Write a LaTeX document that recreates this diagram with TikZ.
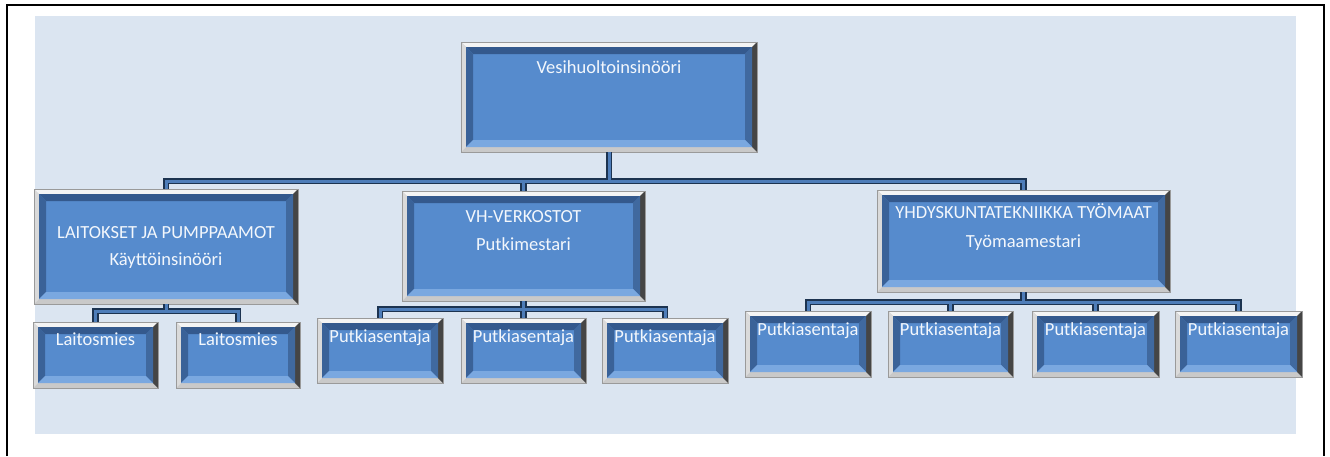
\documentclass[tikz,border=0pt]{standalone}
\usepackage{fontspec}
\setmainfont{Carlito}
\usetikzlibrary{calc,fit}
\definecolor{bgb}{HTML}{DBE5F1}
\definecolor{faceb}{RGB}{86,139,205}
\definecolor{bevtop}{HTML}{34598D}
\definecolor{bevleft}{HTML}{3A6298}
\definecolor{bevright}{HTML}{40699F}
\definecolor{bevbot}{HTML}{7AA8E0}
\definecolor{svtop}{HTML}{F4F4F4}
\definecolor{svleft}{HTML}{DADADA}
\definecolor{svright}{HTML}{454545}
\definecolor{svbot}{HTML}{C9C9C9}
\definecolor{svline}{HTML}{9A9A9A}
\definecolor{cdark}{HTML}{1C3350}
\definecolor{cblue}{HTML}{4E7DB9}
\definecolor{txtc}{HTML}{F3F7FC}
\newcommand\bvlbox[5]{%
  \fill[svbot] (#2,#3) rectangle (#4,#5);
  \fill[svtop] (#2,#3) -- (#4,#3) -- (#4-5,#3+5) -- (#2+5,#3+5) -- cycle;
  \fill[svleft] (#2,#3) -- (#2+5,#3+5) -- (#2+5,#5-5) -- (#2,#5) -- cycle;
  \fill[svright] (#4,#3) -- (#4,#5) -- (#4-5,#5-5) -- (#4-5,#3+5) -- cycle;
  \fill[faceb] (#2+5,#3+5) rectangle (#4-5,#5-5);
  \fill[bevtop] (#2+5,#3+5) -- (#4-5,#3+5) -- (#4-12,#3+12) -- (#2+12,#3+12) -- cycle;
  \fill[bevleft] (#2+5,#3+5) -- (#2+12,#3+12) -- (#2+12,#5-12) -- (#2+5,#5-5) -- cycle;
  \fill[bevright] (#4-5,#3+5) -- (#4-5,#5-5) -- (#4-12,#5-12) -- (#4-12,#3+12) -- cycle;
  \fill[bevbot] (#2+5,#5-5) -- (#4-5,#5-5) -- (#4-12,#5-12) -- (#2+12,#5-12) -- cycle;
  \draw[svline, line width=0.8pt] (#2,#3) rectangle (#4,#5);
  \node[fit={(#2,#3)(#4,#5)}, inner sep=0pt] (#1) {};
}
\newcommand\allconns[1]{%
  \draw[#1] (top.south) -- ++(0,29) -| (laitos.north);
  \draw[#1] (top.south) -- ++(0,29) -| (vh.north);
  \draw[#1] (top.south) -- ++(0,29) -| (yh.north);
  \draw[#1] (laitos.south) -- ++(0,7) -| (lm1.north);
  \draw[#1] (laitos.south) -- ++(0,7) -| (lm2.north);
  \draw[#1] (vh.south) -- ++(0,8) -| (pa1.north);
  \draw[#1] (vh.south) -- ++(0,8) -| (pa2.north);
  \draw[#1] (vh.south) -- ++(0,8) -| (pa3.north);
  \draw[#1] (yh.south) -- ++(0,10) -| (pb1.north);
  \draw[#1] (yh.south) -- ++(0,10) -| (pb2.north);
  \draw[#1] (yh.south) -- ++(0,10) -| (pb3.north);
  \draw[#1] (yh.south) -- ++(0,10) -| (pb4.north);
}
\begin{document}
\begin{tikzpicture}[x=1pt,y=-1pt,
  txt/.style={text=txtc, font=\fontsize{18.5}{27}\selectfont, inner sep=0pt, anchor=base},
  conndark/.style={draw=cdark, line width=6.5pt},
  connblue/.style={draw=cblue, line width=3pt}]
\useasboundingbox (0,0) rectangle (1330,456);
\fill[white] (0,0) rectangle (1330,456);
\fill[bgb] (35,16) rectangle (1296,434);
\draw[black, line width=2pt] (7,456) -- (7,5) -- (1324,5) -- (1324,456);
% boxes (named nodes, drawn with bevels)
\bvlbox{top}{461}{42}{757}{152}
\bvlbox{laitos}{34}{189}{298}{304}
\bvlbox{vh}{402}{191}{645}{301}
\bvlbox{yh}{877}{190}{1170}{292}
\bvlbox{lm1}{33}{322}{158}{388}
\bvlbox{lm2}{176}{322}{300}{388}
\bvlbox{pa1}{317}{318}{443}{383}
\bvlbox{pa2}{461}{318}{586}{383}
\bvlbox{pa3}{602}{318}{728}{383}
\bvlbox{pb1}{745}{311}{871}{377}
\bvlbox{pb2}{888}{311}{1013}{377}
\bvlbox{pb3}{1032}{311}{1159}{377}
\bvlbox{pb4}{1175}{311}{1302}{377}
% connectors
\allconns{conndark}
\allconns{connblue}
% texts
\node[txt] (topT) at ($(top.north)+(0,32)$) {Vesihuoltoinsinööri};
\node[txt] (laitosT1) at ($(laitos.north)+(0,50)$) {LAITOKSET JA PUMPPAAMOT};
\node[txt] (laitosT2) at ($(laitos.north)+(0,77)$) {Käyttöinsinööri};
\node[txt] (vhT1) at ($(vh.north)+(0,32)$) {VH-VERKOSTOT};
\node[txt] (vhT2) at ($(vh.north)+(0,60)$) {Putkimestari};
\node[txt] (yhT1) at ($(yh.north)+(0,29)$) {YHDYSKUNTATEKNIIKKA TYÖMAAT};
\node[txt] (yhT2) at ($(yh.north)+(0,58)$) {Työmaamestari};
\node[txt] (lm1T) at ($(lm1.north)+(0,24)$) {Laitosmies};
\node[txt] (lm2T) at ($(lm2.north)+(0,24)$) {Laitosmies};
\node[txt] (pa1T) at ($(pa1.north)+(0,25)$) {Putkiasentaja};
\node[txt] (pa2T) at ($(pa2.north)+(0,25)$) {Putkiasentaja};
\node[txt] (pa3T) at ($(pa3.north)+(0,25)$) {Putkiasentaja};
\node[txt] (pb1T) at ($(pb1.north)+(0,25)$) {Putkiasentaja};
\node[txt] (pb2T) at ($(pb2.north)+(0,25)$) {Putkiasentaja};
\node[txt] (pb3T) at ($(pb3.north)+(0,25)$) {Putkiasentaja};
\node[txt] (pb4T) at ($(pb4.north)+(0,25)$) {Putkiasentaja};
\end{tikzpicture}
\end{document}
